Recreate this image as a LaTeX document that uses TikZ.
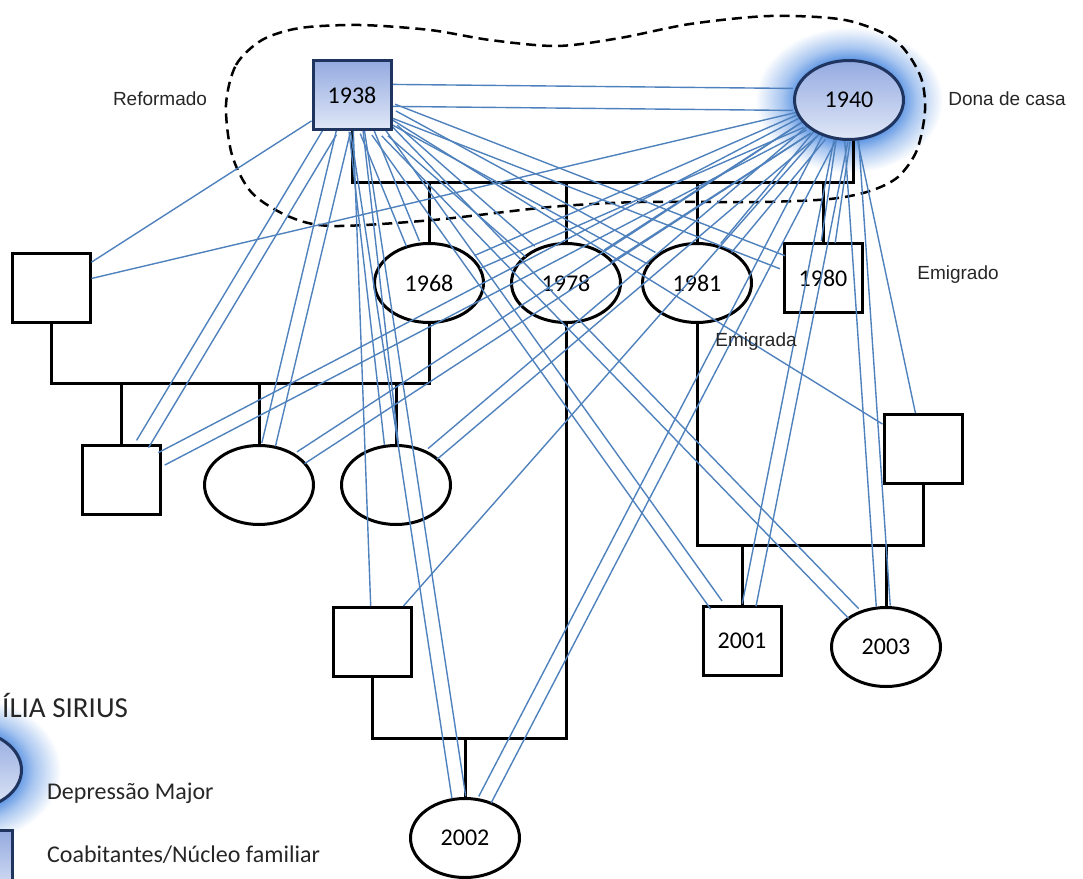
\documentclass[tikz,border=0pt]{standalone}
\usepackage{fontspec}
\setmainfont{Carlito}
\newfontfamily\notefont{Liberation Sans}
\usetikzlibrary{calc,shapes.geometric}

\definecolor{tiecol}{RGB}{79,129,189}
\definecolor{navy}{RGB}{31,52,94}
\definecolor{fillTop}{RGB}{148,170,224}
\definecolor{fillBot}{RGB}{224,231,247}
\definecolor{glowc}{RGB}{98,152,228}
\definecolor{inkgray}{RGB}{38,38,38}

% soft halo used to mark the person with major depression
\pgfdeclareradialshading{haze}{\pgfpoint{0bp}{0bp}}{color(0bp)=(glowc); color(14bp)=(glowc); color(18bp)=(glowc!55!white); color(25bp)=(white); color(50bp)=(white)}

\pgfdeclarelayer{bg}
\pgfdeclarelayer{kids}
\pgfdeclarelayer{ties}
\pgfsetlayers{bg,kids,ties,main}

\tikzset{
  numfont/.style={font=\fontsize{24}{28}\selectfont},
  male/.style={draw=black, line width=3pt, fill=white, minimum width=78pt,
    minimum height=69pt, inner sep=0pt, numfont},
  female/.style={ellipse, draw=black, line width=3pt, fill=white,
    minimum width=109pt, minimum height=79pt, inner sep=0pt, numfont},
  marked/.style={draw=navy, top color=fillTop, bottom color=fillBot},
  kin/.style={line width=3pt, black},
  tieline/.style={draw=tiecol, line width=1.4pt},
  household/.style={line width=2.5pt, black, dash pattern=on 10pt off 6pt},
  sidenote/.style={font=\notefont\fontsize{19}{22}\selectfont, text=inkgray, inner sep=0pt},
  legendtext/.style={font=\fontsize{24}{28}\selectfont, text=inkgray, inner sep=0pt, anchor=west},
}

% a close relationship: two parallel lines between two people
\newcommand\famtie[3][7pt]{%
  \path let \p1=($(#3)-(#2)$) in
    \pgfextra{\pgfmathparse{atan2(\y1,\x1)}\xdef\tieang{\pgfmathresult}};%
  \draw[tieline, transform canvas={shift={(\tieang+90:#1)}}] (#2) -- (#3);%
  \draw[tieline, transform canvas={shift={(\tieang-90:#1)}}] (#2) -- (#3);%
}

\begin{document}
\begin{tikzpicture}[x=1pt,y=-1pt]
\useasboundingbox (0,0) rectangle (1083,878);
\clip (0,0) rectangle (1083,878);

% halos and household boundary
\begin{pgfonlayer}{bg}
  \shade[shading=haze] (849,100) ellipse [x radius=94, y radius=73];
  \shade[shading=haze] (-33,770) ellipse [x radius=94, y radius=73];
  \draw[household] plot[smooth cycle, tension=0.5] coordinates {
    (226,105) (236,65) (262,40) (300,28) (360,25) (430,30) (490,40) (557,46)
    (620,38) (690,24) (770,16) (845,20) (895,40) (920,75) (925,110) (917,150)
    (898,177) (870,191) (830,199) (760,202) (640,202) (550,207) (433,220)
    (333,226) (290,217) (252,193) (232,155)};
\end{pgfonlayer}

% parents
\node[male, marked] (p38) at (352,95) {1938};
\node[female, marked] (p40) at (849,100) {1940};

% legend symbols
\node[female, marked] (lgd1) at (-33,770) {};
\node[male, marked] (lgd2) at (-27,865) {};

\begin{pgfonlayer}{kids}
  \node[female] (c68) at (429,283) {1968};
  \node[female] (c78) at (566,283) {1978};
  \node[female] (c81) at (697,283) {1981};
  \node[male] (c80) at (823,278) {1980};
  \node[male] (sp68) at (51,288) {};
  \node[male] (g1) at (121,480) {};
  \node[female] (g2) at (259,485) {};
  \node[female] (g3) at (396,485) {};
  \node[male] (sp81) at (923,449) {};
  \node[male] (sp78) at (372,642) {};
  \node[male] (g01) at (742,641) {2001};
  \node[female] (g03) at (886,647) {2003};
  \node[female] (g02) at (465,838) {2002};

  \coordinate (bar1) at (0,182);
  \coordinate (bar2) at (0,383);
  \coordinate (bar3) at (0,738);
  \coordinate (bar4) at (0,545);
  \coordinate (f40) at ($(p40.south)+(4,0)$);

  % parents and their children
  \draw[kin] (p38.south) |- (f40 |- bar1) -- (f40);
  \foreach \k in {c68,c78,c81,c80} \draw[kin] (\k.north |- bar1) -- (\k.north);
  % 1968 and partner
  \draw[kin] (sp68.south) |- (c68.south |- bar2) -- (c68.south);
  \foreach \k in {g1,g2,g3} \draw[kin] (\k.north |- bar2) -- (\k.north);
  % 1978 and partner
  \draw[kin] (c78.south) |- (sp78.south |- bar3) -- (sp78.south);
  \draw[kin] (g02.north |- bar3) -- (g02.north);
  % 1981 and partner
  \draw[kin] (c81.south) |- (sp81.south |- bar4) -- (sp81.south);
  \foreach \k in {g01,g03} \draw[kin] (\k.north |- bar4) -- (\k.north);
\end{pgfonlayer}

% relationship lines
\begin{pgfonlayer}{ties}
  \famtie[11pt]{p38}{p40}
  \foreach \k in {c68,c78,c81,c80,g1,g2,g3,g01,g03,g02} {
    \famtie{p38}{\k}
    \famtie{p40}{\k}
  }
  \foreach \k in {sp68,sp81,sp78} {
    \draw[tieline] (p38) -- (\k);
    \draw[tieline] (p40) -- (\k);
  }
\end{pgfonlayer}

% notes
\node[sidenote] (n1) at (160,99) {Reformado};
\node[sidenote] (n2) at (1007,99) {Dona de casa};
\node[sidenote] (n3) at (958,275) {Emigrado};
\node[sidenote] (n4) at (756,342) {Emigrada};

% legend
\node[legendtext, font=\fontsize{29}{33}\selectfont] (ttl) at (2,705) {ÍLIA SIRIUS};
\node[legendtext] (lt1) at (47,793) {Depressão Major};
\node[legendtext] (lt2) at (47,855) {Coabitantes/Núcleo familiar};
\end{tikzpicture}
\end{document}
